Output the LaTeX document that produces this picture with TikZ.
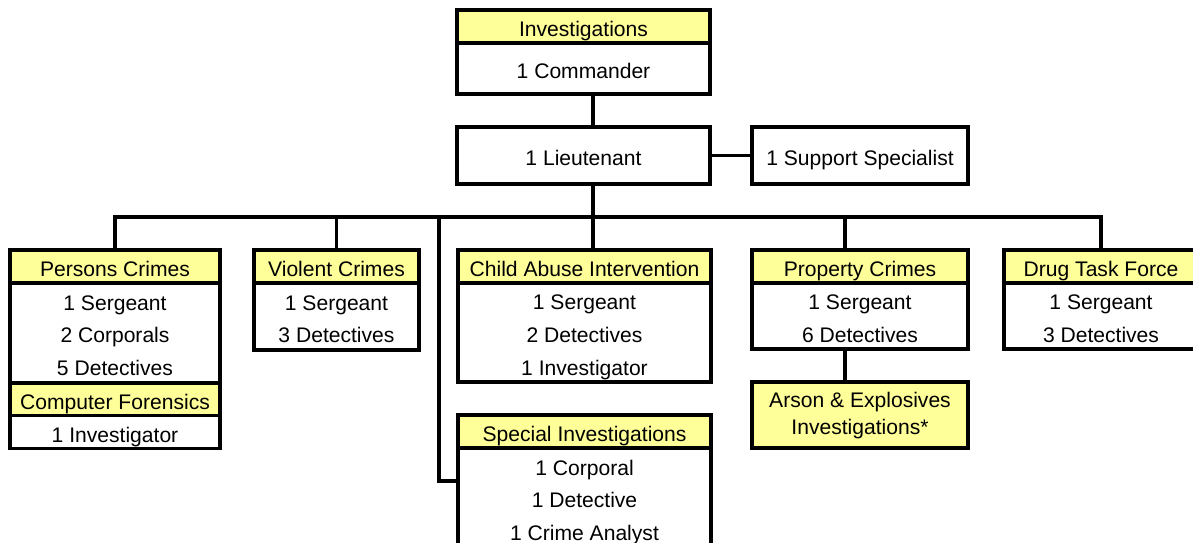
\documentclass[tikz,border=0pt]{standalone}
\usepackage{fontspec}
\setmainfont{Liberation Sans}
\definecolor{hdryellow}{RGB}{255,255,153}
\newcommand\rowstrut{\rule[-3.65pt]{0pt}{18.7pt}}
\tikzset{
  hdr/.style={draw, line width=1.9pt, fill=hdryellow, inner sep=0pt, outer sep=0pt,
    anchor=north, minimum height=0.66cm, align=center, font=\fontsize{12}{18.7}\selectfont,
    execute at begin node=\rowstrut, execute at end node=\rowstrut},
  staff/.style={draw, line width=1.9pt, fill=white, inner sep=0pt, outer sep=0pt,
    anchor=north, align=center, font=\fontsize{12}{18.7}\selectfont,
    execute at begin node=\rowstrut, execute at end node=\rowstrut},
  link/.style={line width=1.9pt}
}
\begin{document}
\begin{tikzpicture}[x=0.02cm,y=-0.02cm]
\clip (0,0) rectangle (1193,543);

\node[hdr, minimum width=5.06cm] (inv) at (583.5,10) {Investigations};
\node[staff, minimum width=5.06cm, minimum height=1.02cm] (cmd) at (inv.south) {1 Commander};
\node[staff, minimum width=5.06cm, minimum height=1.14cm] (lt) at (583.5,127) {1 Lieutenant};
\node[staff, minimum width=4.32cm, minimum height=1.14cm] (sup) at (860,127) {1 Support Specialist};

\node[hdr, minimum width=4.2cm] (pers) at (115,250) {Persons Crimes};
\node[staff, minimum width=4.2cm, minimum height=2.0cm] (persb) at (pers.south) {\rowstrut 1 Sergeant\\2 Corporals\\5 Detectives};
\node[hdr, minimum width=4.2cm, minimum height=0.64cm] (comp) at (persb.south) {Computer Forensics};
\node[staff, minimum width=4.2cm, minimum height=0.64cm] (compb) at (comp.south) {1 Investigator};

\node[hdr, minimum width=3.3cm] (viol) at (336.5,250) {Violent Crimes};
\node[staff, minimum width=3.3cm, minimum height=1.34cm] (violb) at (viol.south) {\rowstrut 1 Sergeant\\3 Detectives};

\node[hdr, minimum width=5.06cm] (child) at (584.5,250) {Child Abuse Intervention};
\node[staff, minimum width=5.06cm, minimum height=1.98cm] (childb) at (child.south) {\rowstrut 1 Sergeant\\2 Detectives\\1 Investigator};

\node[hdr, minimum width=5.06cm] (spec) at (584.5,415) {Special Investigations};
\node[staff, minimum width=5.06cm, minimum height=2.0cm] (specb) at (spec.south) {\rowstrut 1 Corporal\\1 Detective\\1 Crime Analyst};

\node[hdr, minimum width=4.32cm] (prop) at (860,250) {Property Crimes};
\node[staff, minimum width=4.32cm, minimum height=1.32cm] (propb) at (prop.south) {\rowstrut 1 Sergeant\\6 Detectives};
\node[hdr, minimum width=4.32cm, minimum height=1.32cm, font=\fontsize{12}{15.3}\selectfont] (arson) at (860,382) {\strut Arson \& Explosives\\Investigations*};

\node[hdr, minimum width=3.88cm] (drug) at (1101,250) {Drug Task Force};
\node[staff, minimum width=3.88cm, minimum height=1.32cm] (drugb) at (drug.south) {\rowstrut 1 Sergeant\\3 Detectives};

\coordinate (bus) at (593,217);
\coordinate (specline) at (439,217);

\draw[link] (cmd.south -| bus) -- (lt.north -| bus);
\draw[link] (lt.south -| bus) -- (bus);
\draw[link] (lt.east) -- (sup.west);
\draw[link] (pers.north) |- (drug.north |- bus) -- (drug.north);
\draw[link] (viol.north) -- (viol.north |- bus);
\draw[link] (bus) -- (child.north -| bus);
\draw[link] ([xshift=-0.3cm]prop.north) -- ([xshift=-0.3cm]prop.north |- bus);
\draw[link] ([xshift=-0.3cm]propb.south) -- ([xshift=-0.3cm]arson.north);
\draw[link] (specline) |- ([yshift=-0.66cm]specb.north west);
\end{tikzpicture}
\end{document}
